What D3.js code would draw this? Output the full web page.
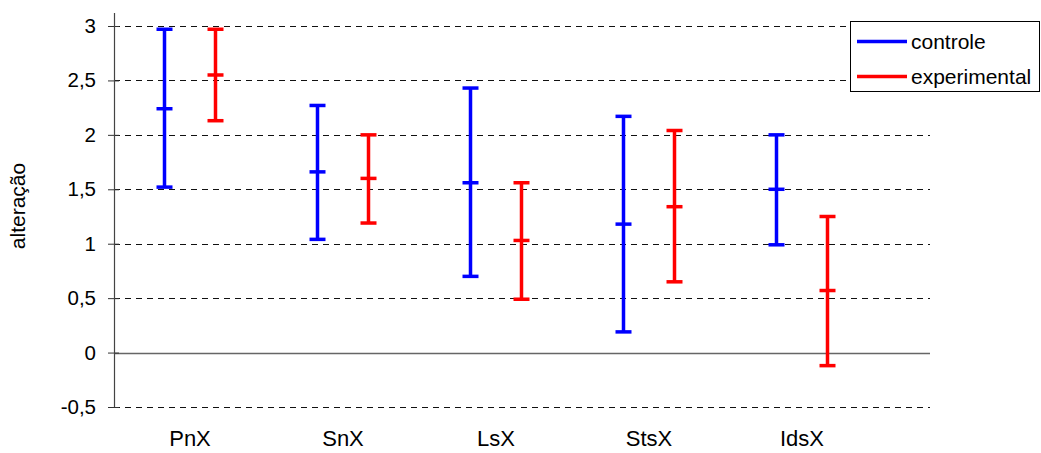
<!DOCTYPE html>
<html>
<head>
<meta charset="utf-8">
<script src="https://cdn.jsdelivr.net/npm/d3@7"></script>
<style>
  body { margin: 0; background: #fff; }
  text { font-family: "Liberation Sans", Arial, sans-serif; }
</style>
</head>
<body>
<script>
// ================= Data ======================
const categories = ["PnX", "SnX", "LsX", "StsX", "IdsX"];
const series = ["controle", "experimental"];
const controleTop = [2.97, 2.27, 2.43, 2.17, 2.00];
const controleMid = [2.24, 1.66, 1.56, 1.18, 1.50];
const controleLow = [1.52, 1.04, 0.70, 0.19, 0.99];
const experimentalTop = [2.97, 2.00, 1.56, 2.04, 1.25];
const experimentalMid = [2.55, 1.60, 1.03, 1.34, 0.57];
const experimentalLow = [2.13, 1.19, 0.49, 0.65, -0.12];
const yTicks = [-0.5, 0, 0.5, 1, 1.5, 2, 2.5, 3];
const colors = {controle: "#0000ff", experimental: "#ff0000"};

const rows = [];
categories.forEach((c, i) => {
  rows.push({cat: c, s: "controle", top: controleTop[i], mid: controleMid[i], low: controleLow[i]});
  rows.push({cat: c, s: "experimental", top: experimentalTop[i], mid: experimentalMid[i], low: experimentalLow[i]});
});

// ================== Layout ===========================
const width = 1041, height = 453;
const svg = d3.select("body").append("svg")
  .attr("width", width).attr("height", height);

const plot = {left: 114, right: 930, top: 13, bottom: 407};

const yScale = d3.scaleLinear().domain([-0.5, 3]).range([407, 26]);
const xScale = d3.scaleBand().domain(categories).range([113.5, 113.5 + 5 * 153]);
const sub = d3.scalePoint().domain(series).range([-25.5, 25.5]);
const fmt = d => String(d).replace(".", ",");

// grid lines
svg.append("g").selectAll("line")
  .data(yTicks)
  .join("line")
  .attr("x1", plot.left).attr("x2", plot.right)
  .attr("y1", d => Math.round(yScale(d)) + 0.5)
  .attr("y2", d => Math.round(yScale(d)) + 0.5)
  .attr("stroke", d => d === 0 ? "#666" : "#111")
  .attr("stroke-width", d => d === 0 ? 1.6 : 1)
  .attr("stroke-dasharray", d => d === 0 ? null : "6,5");

// y axis
const yAxis = d3.axisLeft(yScale).tickValues(yTicks).tickFormat(fmt).tickSize(0).tickPadding(18);
const gy = svg.append("g").attr("transform", `translate(${plot.left},0)`).call(yAxis);
gy.select(".domain").remove();
gy.selectAll("text").attr("font-size", 20.5).attr("fill", "#000")
  .attr("font-family", "Liberation Sans, Arial, sans-serif");
gy.selectAll(".tick").append("line")
  .attr("x1", -6).attr("x2", 5)
  .attr("stroke", "#333");
svg.append("line")
  .attr("x1", plot.left + 0.5).attr("x2", plot.left + 0.5)
  .attr("y1", plot.top).attr("y2", plot.bottom)
  .attr("stroke", "#444").attr("stroke-width", 1.2);

// x axis labels
const xAxis = d3.axisBottom(xScale).tickSize(0).tickPadding(23);
const gx = svg.append("g").attr("transform", `translate(0,${plot.bottom})`).call(xAxis);
gx.select(".domain").remove();
gx.selectAll("text").attr("font-size", 22).attr("fill", "#000")
  .attr("font-family", "Liberation Sans, Arial, sans-serif");

// y label
svg.append("text")
  .attr("transform", "translate(25,206) rotate(-90)")
  .attr("text-anchor", "middle")
  .attr("font-size", 21)
  .text("alteração");

// ==================== Error bars ===========================
const bars = svg.append("g").selectAll("g")
  .data(rows)
  .join("g")
  .attr("transform", d => `translate(${xScale(d.cat) + xScale.bandwidth() / 2 + sub(d.s)},0)`)
  .attr("stroke", d => colors[d.s])
  .attr("stroke-width", 3.5);

bars.append("line")
  .attr("y1", d => yScale(d.top)).attr("y2", d => yScale(d.low));
["top", "mid", "low"].forEach(k => {
  bars.append("line")
    .attr("x1", -8).attr("x2", 8)
    .attr("y1", d => yScale(d[k])).attr("y2", d => yScale(d[k]));
});

// ==================== Legend ===========================
const legend = svg.append("g");
legend.append("rect")
  .attr("x", 850.5).attr("y", 21.5).attr("width", 189).attr("height", 70)
  .attr("fill", "#fff").attr("stroke", "#000");
series.forEach((s, i) => {
  const y = 41.5 + i * 35;
  legend.append("line")
    .attr("x1", 857).attr("x2", 907).attr("y1", y).attr("y2", y)
    .attr("stroke", colors[s]).attr("stroke-width", 3.5);
  legend.append("text")
    .attr("x", 911).attr("y", y + 7)
    .attr("font-size", 21)
    .text(s);
});
</script>
</body>
</html>
